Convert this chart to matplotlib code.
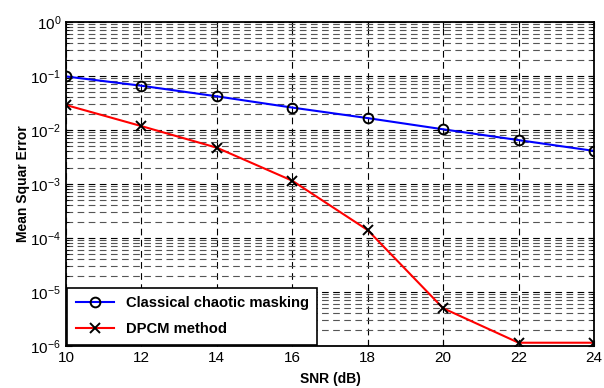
import matplotlib
matplotlib.use("Agg")
import matplotlib.pyplot as plt
from matplotlib.ticker import FixedLocator, NullFormatter

plt.rcParams['font.family'] = ['Liberation Sans', 'DejaVu Sans']

snr = [10, 12, 14, 16, 18, 20, 22, 24]
classical = [0.098, 0.066, 0.042, 0.026, 0.0166, 0.0103, 0.0065, 0.0041]
dpcm = [0.029, 0.0118, 0.0047, 0.00115, 1.4e-4, 5.0e-6, 1.15e-6, 1.15e-6]
xticks = [10, 12, 14, 16, 18, 20, 22, 24]
yticks = [1e-6, 1e-5, 1e-4, 1e-3, 1e-2, 1e-1, 1e0]

fig = plt.figure(figsize=(6.04, 3.88), dpi=100)
ax = fig.add_axes([66/604, 42/388, 528/604, 324/388])

ax.plot(snr, classical, color='#0000ff', lw=1.5, marker='o', ms=7,
        mfc='none', mec='black', mew=1.4, label='Classical chaotic masking')
ax.plot(snr, dpcm, color='#ff0000', lw=1.5, marker='x', ms=7,
        mec='black', mew=1.4, label='DPCM method')

ax.set_yscale('log')
ax.set_xlim(10, 24)
ax.set_ylim(1e-6, 1)
ax.set_xticks(xticks)
ax.yaxis.set_major_locator(FixedLocator(yticks))
ax.yaxis.set_minor_locator(FixedLocator([d * m for d in yticks[:-1] for m in range(2, 10)]))
ax.yaxis.set_minor_formatter(NullFormatter())
ax.xaxis.set_minor_locator(FixedLocator([]))

ax.grid(True, which='major', axis='both', color='black', ls=(0, (6, 4)), lw=0.8)
ax.grid(True, which='minor', axis='y', color='#555555', ls=(0, (6, 4)), lw=0.8)

ax.tick_params(which='both', direction='in', top=True, right=True, labelsize=11)
ax.tick_params(which='major', length=4)
ax.tick_params(which='minor', length=2)
for s in ax.spines.values():
    s.set_linewidth(1.3)

ax.set_xlabel('SNR (dB)', fontsize=10, fontweight='bold', labelpad=5)
ax.set_ylabel('Mean Squar Error', fontsize=10, fontweight='bold', labelpad=0)

leg = ax.legend(loc='lower left', prop={'weight': 'bold', 'size': 10.6},
                fancybox=False, edgecolor='black', framealpha=1,
                borderaxespad=0.1, handlelength=2.6, borderpad=0.55,
                labelspacing=0.85)
leg.get_frame().set_linewidth(1.2)

fig.savefig('out.png', dpi=100)
